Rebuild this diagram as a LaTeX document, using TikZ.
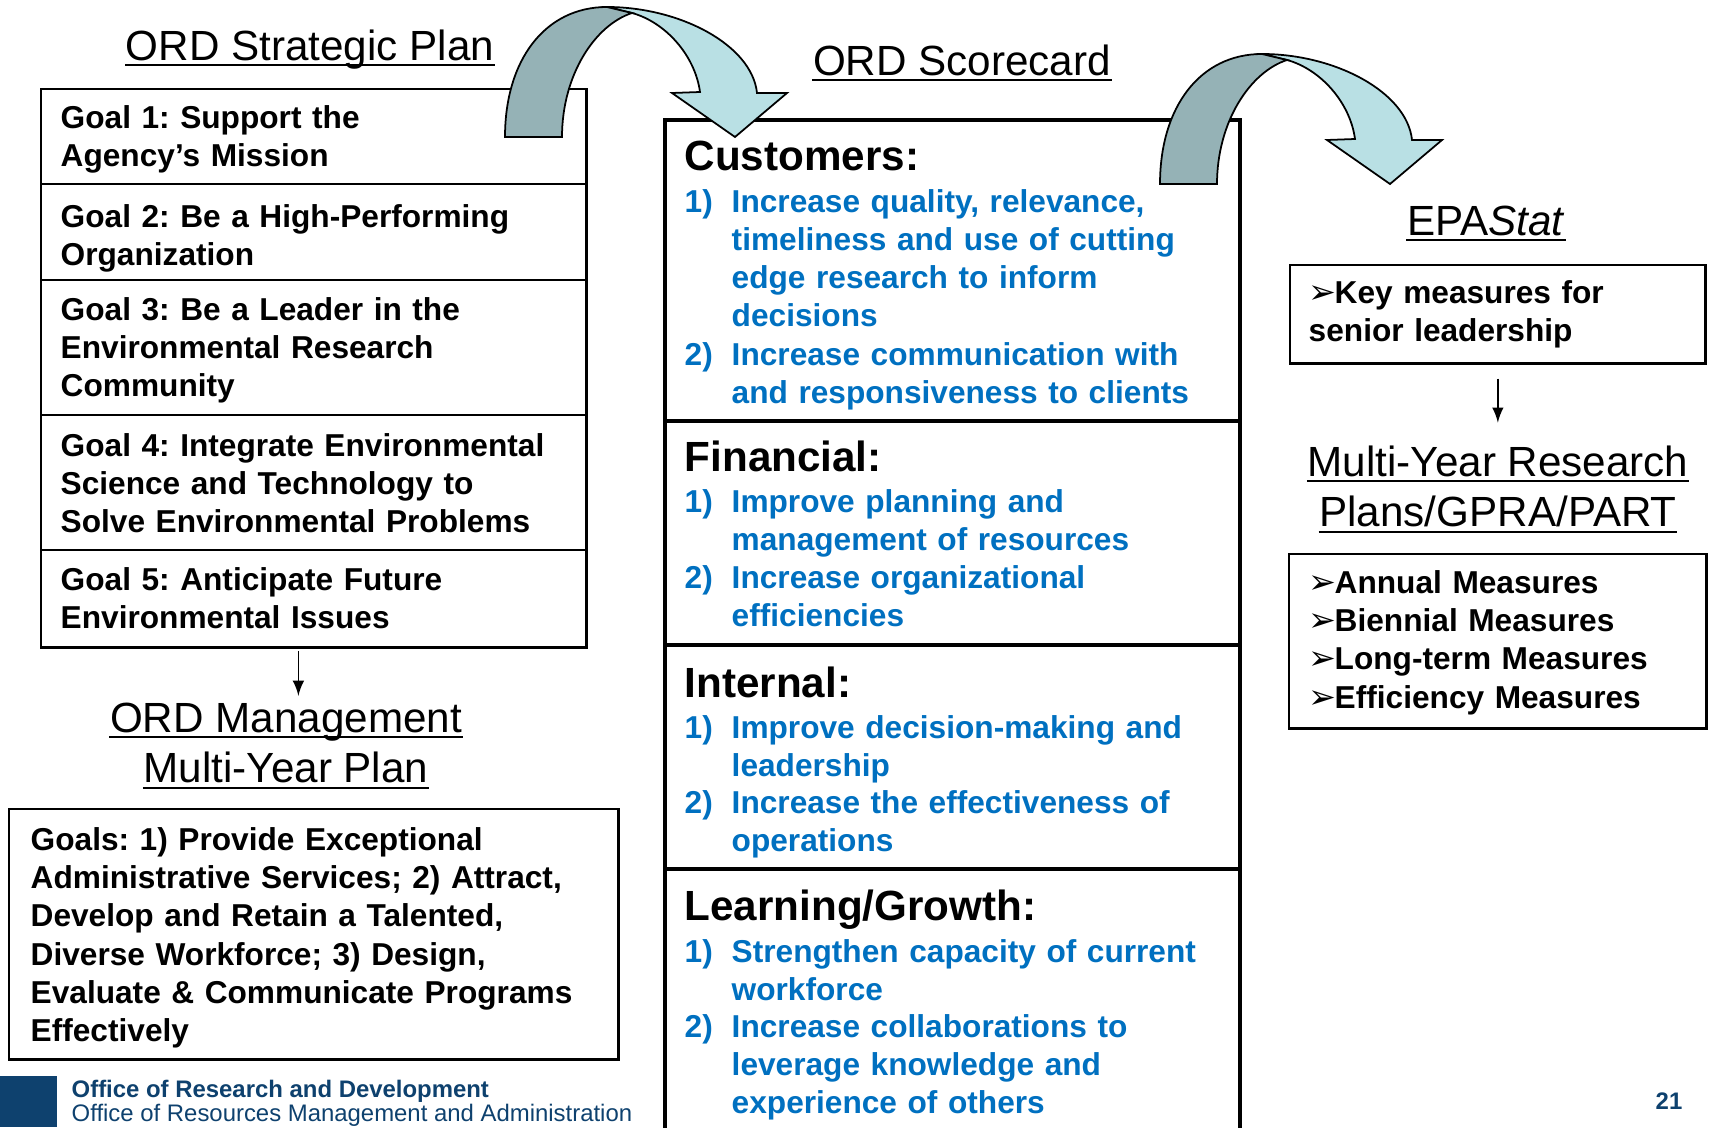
\documentclass[tikz,border=0pt]{standalone}
\usepackage{fontspec}
\setmainfont{Liberation Sans}
\newfontfamily\symfont{DejaVu Sans}
\usetikzlibrary{positioning}
\frenchspacing

\definecolor{ordblue}{RGB}{0,112,192}
\definecolor{navy}{RGB}{14,65,110}
\definecolor{arrowback}{RGB}{149,178,182}
\definecolor{arrowfront}{RGB}{185,224,228}

\newcommand{\tipbullet}{{\symfont\fontsize{9.5}{10}\selectfont ➢}\kern-0.02cm}

\begin{document}
\begin{tikzpicture}[x=0.01cm, y=-0.01cm,
    txt/.style={font=\bfseries\fontsize{9}{10.9}\selectfont, anchor=base west, inner sep=0pt, align=left, text width=#1},
    txt/.default=5.2cm,
    item/.style={txt=5.0cm, text=ordblue},
    num/.style={txt=0.45cm, text=ordblue},
    part/.style={font=\bfseries\fontsize{12}{14}\selectfont, anchor=base west, inner sep=0pt},
    heading/.style={font=\fontsize{12}{14}\selectfont, anchor=base, inner sep=0pt},
    uline/.style={line width=0.6pt},
    thinbox/.style={draw, line width=0.7pt, inner sep=0pt, anchor=north west},
    thickbox/.style={line width=1.3pt},
    foot/.style={font=\fontsize{6.8}{7.5}\selectfont, anchor=base west, inner sep=0pt, text=navy}]
  \useasboundingbox (0,0) rectangle (1713,1127);

  % left column: strategic plan
  \node[heading] (plan) at (310,60) {ORD Strategic Plan};
  \draw[uline] ([yshift=-0.05cm]plan.base west) -- ([yshift=-0.05cm]plan.base east);
  \node[thinbox, minimum width=5.45cm, minimum height=5.58cm] (planbox) at (40,88) {};
  \foreach \y in {184,280,415,550}{
      \draw[line width=0.7pt] (40,\y) -- (585,\y);
    }
  \node[txt] (g1) at (60,128) {Goal 1: Support the\\Agency’s Mission};
  \node[txt] (g2) at (60,227) {Goal 2: Be a High-Performing\\Organization};
  \node[txt] (g3) at (60,320) {Goal 3: Be a Leader in the\\Environmental Research\\Community};
  \node[txt] (g4) at (60,456) {Goal 4: Integrate Environmental\\Science and Technology to\\Solve Environmental Problems};
  \node[txt] (g5) at (60,590) {Goal 5: Anticipate Future\\Environmental Issues};

  \node[heading] (mgmt) at (286,732) {ORD Management};
  \draw[uline] ([yshift=-0.05cm]mgmt.base west) -- ([yshift=-0.05cm]mgmt.base east);
  \node[heading] (myp) at (286,782) {Multi-Year Plan};
  \draw[uline] ([yshift=-0.06cm]myp.base west) -- ([yshift=-0.06cm]myp.base east);
  \draw[-latex, line width=0.5pt, shorten <=0.02cm, shorten >=0.06cm]
    ([xshift=-0.155cm]planbox.south) -- ([xshift=-0.155cm]planbox.south |- mgmt.north);
  \node[thinbox, minimum width=6.09cm, minimum height=2.5cm] (mgmtbox) at (8,808) {};
  \node[txt=5.9cm] (mgoals) at (30,850) {Goals: 1) Provide Exceptional\\Administrative Services; 2) Attract,\\Develop and Retain a Talented,\\Diverse Workforce; 3) Design,\\Evaluate \& Communicate Programs\\Effectively};

  % middle column: scorecard
  \node[heading] (score) at (962,75) {ORD Scorecard};
  \draw[uline] ([yshift=-0.05cm]score.base west) -- ([yshift=-0.05cm]score.base east);
  \draw[thickbox] (665,1140) -- (665,120) -- (1240,120) -- (1240,1140);
  \foreach \y in {421,645,869}{
      \draw[thickbox] (665,\y) -- (1240,\y);
    }

  \node[part] (cust) at (684,170) {Customers:};
  \node[num] (c1n) at (684,212) {1)};
  \node[item] (c1) at (731,212) {Increase quality, relevance,\\timeliness and use of cutting\\edge research to inform\\decisions};
  \node[num] (c2n) at (684,365) {2)};
  \node[item] (c2) at (731,365) {Increase communication with\\and responsiveness to clients};

  \node[part] (fin) at (684,471) {Financial:};
  \node[num] (f1n) at (684,512) {1)};
  \node[item] (f1) at (731,512) {Improve planning and\\management of resources};
  \node[num] (f2n) at (684,588) {2)};
  \node[item] (f2) at (731,588) {Increase organizational\\efficiencies};

  \node[part] (int) at (684,697) {Internal:};
  \node[num] (i1n) at (684,738) {1)};
  \node[item] (i1) at (731,738) {Improve decision-making and\\leadership};
  \node[num] (i2n) at (684,813) {2)};
  \node[item] (i2) at (731,813) {Increase the effectiveness of\\operations};

  \node[part] (learn) at (684,920) {Learning/Growth:};
  \node[num] (l1n) at (684,962) {1)};
  \node[item] (l1) at (731,962) {Strengthen capacity of current\\workforce};
  \node[num] (l2n) at (684,1037) {2)};
  \node[item] (l2) at (731,1037) {Increase collaborations to\\leverage knowledge and\\experience of others};

  % right column: EPAStat
  \node[heading] (stat) at (1486,235) {EPA\textit{Stat}};
  \draw[uline] ([yshift=-0.05cm]stat.base west) -- ([yshift=-0.05cm]stat.base east);
  \node[thinbox, minimum width=4.15cm, minimum height=0.98cm] (keybox) at (1289,264) {};
  \node[txt=3.9cm] (keys) at (1308,303) {\tipbullet Key measures for\\senior leadership};
  \node[heading] (myr) at (1498,476) {Multi-Year Research};
  \draw[uline] ([yshift=-0.05cm]myr.base west) -- ([yshift=-0.05cm]myr.base east);
  \node[heading] (gpra) at (1498,526) {Plans/GPRA/PART};
  \draw[uline] ([yshift=-0.06cm]gpra.base west) -- ([yshift=-0.06cm]gpra.base east);
  \draw[-latex, line width=0.5pt, shorten <=0.14cm, shorten >=0.22cm]
    (keybox.south) -- (keybox.south |- myr.north);
  \node[thinbox, minimum width=4.17cm, minimum height=1.74cm] (measbox) at (1288,553) {};
  \node[txt=3.9cm] (meas) at (1308,593) {\tipbullet Annual Measures\\\tipbullet Biennial Measures\\\tipbullet Long-term Measures\\\tipbullet Efficiency Measures};

  % curved arrows
  \foreach \dx/\dy in {0/0,655/47}{
      \begin{scope}[shift={(\dx,\dy)}]
        \filldraw[fill=arrowfront, line width=0.5pt] (607,7) .. controls (680,7) and (752,45) .. (757,93)
          -- (787,93) -- (735,137) -- (672,93) -- (700,92)
          .. controls (695,55) and (665,22) .. (632,13) -- cycle;
        \filldraw[fill=arrowback, line width=0.5pt] (505,137) .. controls (505,60) and (545,7) .. (607,7)
          -- (632,13) .. controls (595,25) and (562,75) .. (562,137) -- cycle;
      \end{scope}
    }

  % footer
  \fill[navy] (0,1076) rectangle (57,1127);
  \node[foot] (ord) at (71,1097) {\bfseries Office of Research and Development};
  \node[foot] (orma) at (71,1121) {Office of Resources Management and Administration};
  \node[foot, anchor=base east] (pageno) at (1683,1109) {\bfseries 21};
\end{tikzpicture}
\end{document}
